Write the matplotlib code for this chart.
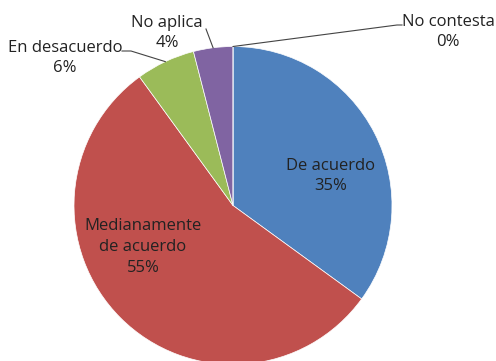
import matplotlib
matplotlib.use("Agg")
import matplotlib.pyplot as plt
import numpy as np

categories = ["De acuerdo", "Medianamente de acuerdo", "En desacuerdo", "No aplica", "No contesta"]
values = [35, 55, 6, 4, 0]
colors = ["#4F81BD", "#C0504D", "#9BBB59", "#8064A2", "#4BACC6"]
display_names = ["De acuerdo", "Medianamente\nde acuerdo", "En desacuerdo", "No aplica", "No contesta"]

W, H = 496, 361
fig = plt.figure(figsize=(W / 100, H / 100), dpi=100)
ax = fig.add_axes([0, 0, 1, 1])

cx, cy, r = 233, H - 205.5, 159
wedges, _ = ax.pie(values, colors=colors, startangle=90, counterclock=False,
                   center=(cx, cy), radius=r, frame=True,
                   wedgeprops=dict(linewidth=0.5, edgecolor="white"))
ax.set_xlim(0, W)
ax.set_ylim(0, H)
ax.axis("off")

font = dict(family=["Open Sans", "DejaVu Sans"], fontsize=12, color="#222222",
            ha="center", va="center", linespacing=1.38)
total = sum(values)
pct = [f"{round(v / total * 100)}%" for v in values]

def edge_point(i):
    w = wedges[i]
    ang = np.deg2rad((w.theta1 + w.theta2) / 2)
    return cx + r * np.cos(ang), cy + r * np.sin(ang)

# inside labels
ax.text(331, H - 176, f"{display_names[0]}\n{pct[0]}", **font)
ax.text(143, H - 247, f"{display_names[1]}\n{pct[1]}", **font)

# outside labels with leader lines
lc = "#444444"
ax.text(65, H - 58, f"{display_names[2]}\n{pct[2]}", **font)
ex, ey = edge_point(2)
ax.plot([122, 131, ex], [H - 51, H - 51, ey], color=lc, lw=0.8)

ax.text(167, H - 33, f"{display_names[3]}\n{pct[3]}", **font)
ex, ey = edge_point(3)
ax.plot([206, ex], [H - 29, ey], color=lc, lw=0.8)

ax.text(448, H - 32, f"{display_names[4]}\n{pct[4]}", **font)
ex, ey = edge_point(4)
ax.plot([402, 397, ex], [H - 25, H - 25, ey], color=lc, lw=0.8)

fig.savefig("out.png", dpi=100)
